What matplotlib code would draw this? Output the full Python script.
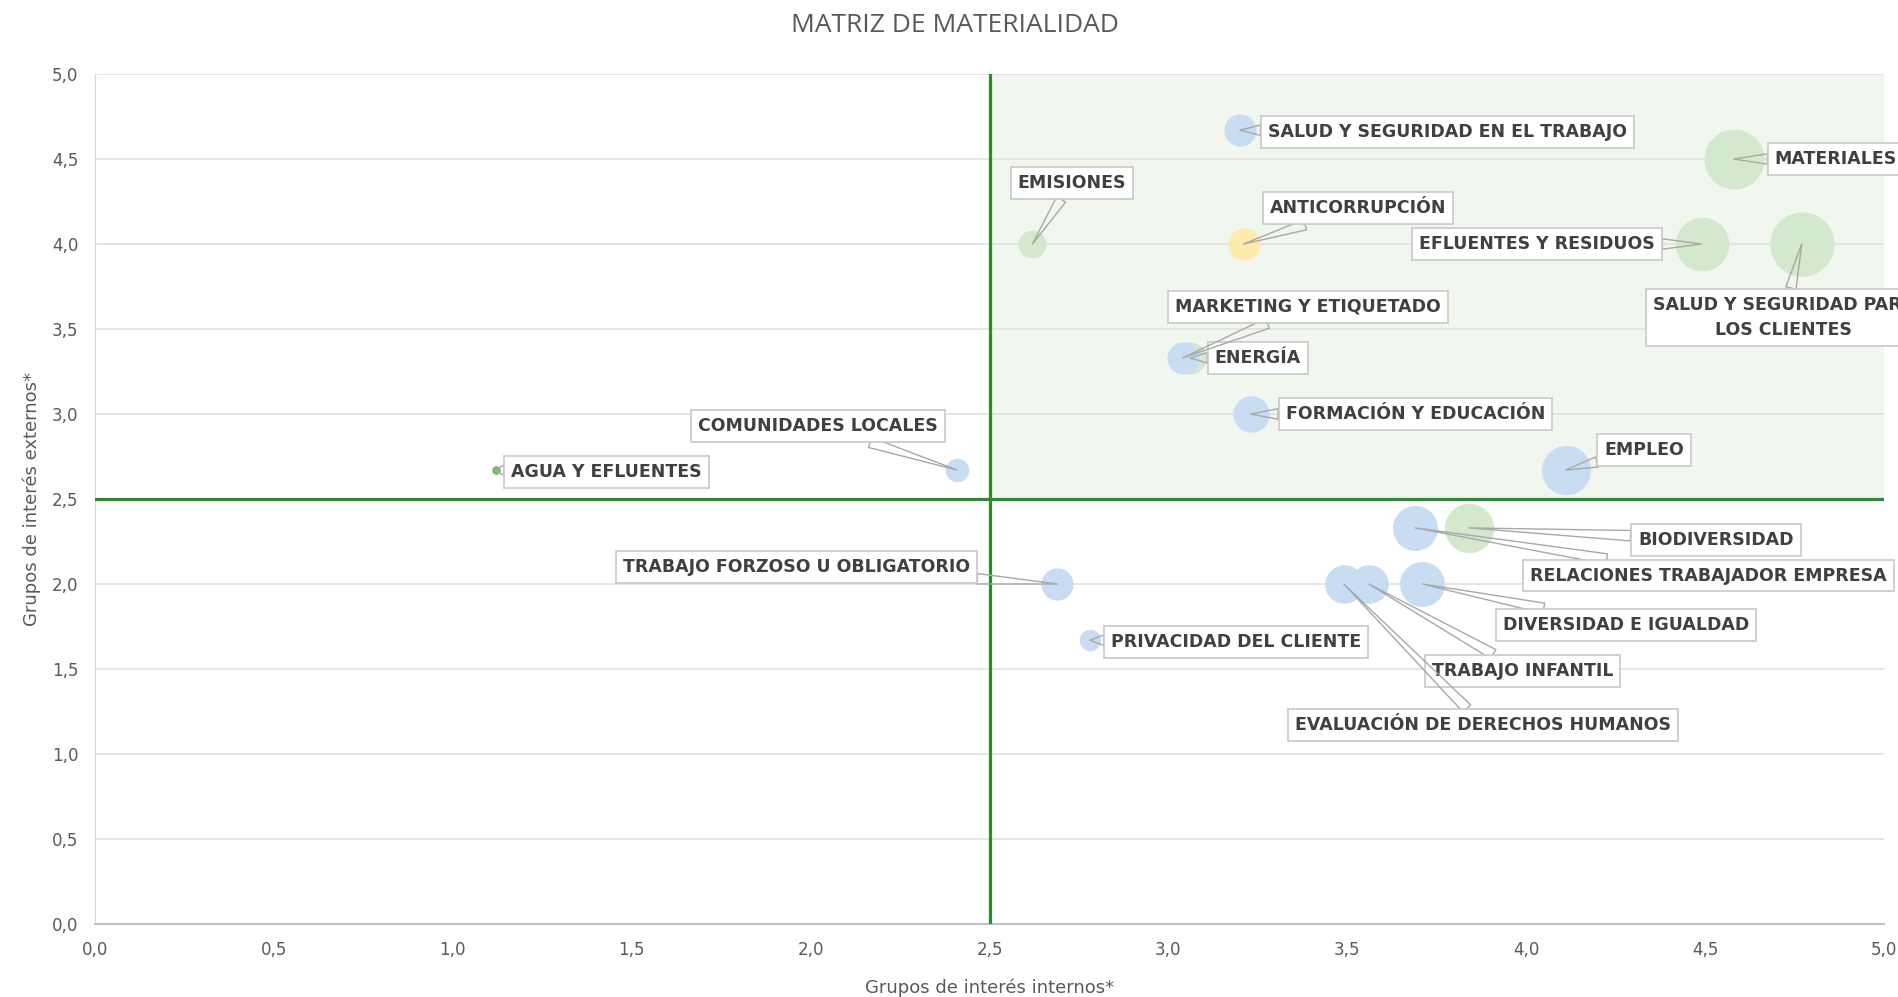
import numpy as np
import matplotlib
matplotlib.use("Agg")
import matplotlib.pyplot as plt
from matplotlib.patches import Rectangle

# datos de la matriz
temas = ["SALUD Y SEGURIDAD EN EL TRABAJO", "MATERIALES", "EMISIONES", "ANTICORRUPCIÓN",
         "EFLUENTES Y RESIDUOS", "SALUD Y SEGURIDAD PARA\nLOS CLIENTES", "ENERGÍA",
         "MARKETING Y ETIQUETADO", "FORMACIÓN Y EDUCACIÓN", "EMPLEO", "COMUNIDADES LOCALES",
         "AGUA Y EFLUENTES", "BIODIVERSIDAD", "RELACIONES TRABAJADOR EMPRESA",
         "TRABAJO FORZOSO U OBLIGATORIO", "DIVERSIDAD E IGUALDAD", "TRABAJO INFANTIL",
         "EVALUACIÓN DE DERECHOS HUMANOS", "PRIVACIDAD DEL CLIENTE"]
internos = [3.20, 4.58, 2.62, 3.21, 4.49, 4.77, 3.06, 3.04, 3.23, 4.11, 2.41,
            1.12, 3.84, 3.69, 2.69, 3.71, 3.56, 3.49, 2.78]
externos = [4.67, 4.50, 4.00, 4.00, 4.00, 4.00, 3.33, 3.33, 3.00, 2.67, 2.67,
            2.67, 2.33, 2.33, 2.00, 2.00, 2.00, 2.00, 1.67]
peso = [15, 28, 13, 15, 25, 30, 15, 15, 17, 23, 11, 4, 23, 21, 15, 21, 18, 18, 10]
grupo = ["s", "a", "a", "g", "a", "a", "a", "s", "s", "s", "s",
         "w", "a", "s", "s", "s", "s", "s", "s"]

# posicion de las etiquetas (x, y, alineacion)
etiquetas = {
    0: (3.78, 4.66, "center"), 1: (4.695, 4.50, "left"), 2: (2.73, 4.36, "center"),
    3: (3.53, 4.21, "center"), 4: (4.03, 4.00, "center"), 5: (4.72, 3.57, "center"),
    6: (3.25, 3.33, "center"), 7: (3.39, 3.63, "center"), 8: (3.69, 3.00, "center"),
    9: (4.33, 2.79, "center"), 10: (2.02, 2.93, "center"), 11: (1.43, 2.66, "center"),
    12: (4.53, 2.26, "center"), 13: (4.51, 2.05, "center"), 14: (1.96, 2.10, "center"),
    15: (4.28, 1.76, "center"), 16: (3.99, 1.49, "center"), 17: (3.88, 1.17, "center"),
    18: (3.19, 1.66, "center"),
}

colores = {"s": "#c8ddf2", "a": "#d3e8cc", "g": "#fdebad", "w": "#74b964"}
verde = "#2f8a2f"
gris = "#595959"
narrow = ["DejaVu Sans Condensed", "DejaVu Sans"]

fig = plt.figure(figsize=(18.98, 9.97), dpi=100)
ax = fig.add_axes([95 / 1898, 73 / 997, 1789 / 1898, 850 / 997])

ax.set_xlim(0, 5)
ax.set_ylim(0, 5)
ax.add_patch(Rectangle((2.5, 2.5), 2.5, 2.5, color="#f1f7ef", zorder=0, lw=0))
for yy in np.arange(0.5, 5.01, 0.5):
    ax.axhline(yy, color="#e0e0e0", lw=1.2, zorder=1)

# burbujas: verdes debajo de las azules cuando coinciden
for i in range(len(temas)):
    r = peso[i] * 1.21 * 0.72
    z = 2.5 if grupo[i] == "a" else 3
    ax.scatter(internos[i], externos[i], s=np.pi * r ** 2, color=colores[grupo[i]],
               lw=0, zorder=z)

ax.axvline(2.5, color=verde, lw=2.3, zorder=4)
ax.axhline(2.5, color=verde, lw=2.3, zorder=4)

for i, (lx, ly, ha) in etiquetas.items():
    ax.annotate(temas[i], xy=(internos[i], externos[i]), xytext=(lx, ly),
                ha=ha, va="center", fontsize=12.5, fontweight="bold", color="#404040",
                family=narrow, linespacing=1.5, zorder=6, annotation_clip=False,
                bbox=dict(boxstyle="square,pad=0.4", fc="white", ec="#c8c8c8", lw=1.2),
                arrowprops=dict(arrowstyle="wedge,tail_width=0.6,shrink_factor=0.5",
                                fc="none", ec="#a8a8a8", lw=1.0, shrinkA=0, shrinkB=0))

ticks = np.arange(0, 5.01, 0.5)
ax.set_xticks(ticks)
ax.set_yticks(ticks)
ax.set_xticklabels([f"{t:.1f}".replace(".", ",") for t in ticks], family=narrow,
                   fontsize=12, color=gris)
ax.set_yticklabels([f"{t:.1f}".replace(".", ",") for t in ticks], family=narrow,
                   fontsize=12, color=gris)
ax.tick_params(length=0, pad=12)
ax.tick_params(axis="x", pad=12)
for s in ["top", "right"]:
    ax.spines[s].set_visible(False)
ax.spines["left"].set_color("#d9d9d9")
ax.spines["bottom"].set_color("#c0c0c0")
ax.spines["bottom"].set_linewidth(1.5)

ax.set_xlabel("Grupos de interés internos*", family=narrow, fontsize=13, color=gris,
              labelpad=14)
ax.set_ylabel("Grupos de interés externos*", fontsize=13, color=gris, labelpad=8)
fig.text(955 / 1898, 1 - 25 / 997, "MATRIZ DE MATERIALIDAD", ha="center", va="center",
         fontsize=19, color=gris, family=["Open Sans", "DejaVu Sans"])

fig.savefig("out.png", dpi=100)
